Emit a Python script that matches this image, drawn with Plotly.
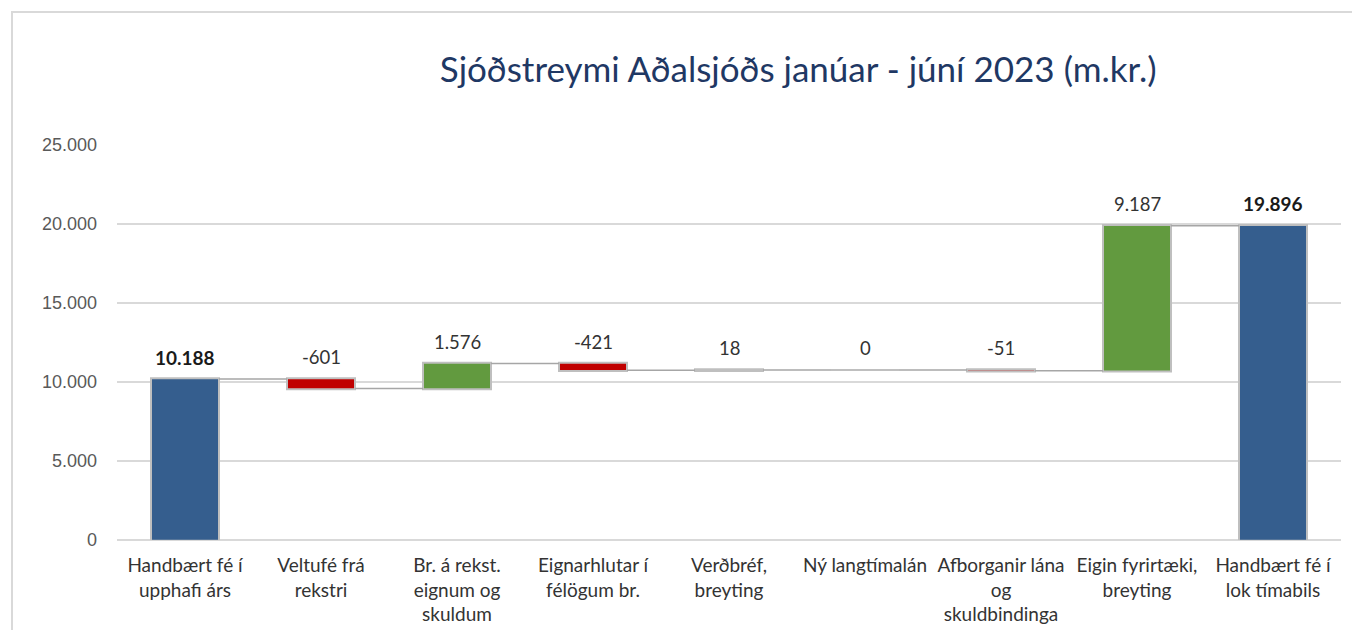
import plotly.graph_objects as go

categories = [
    "Handbært fé í<br>upphafi árs",
    "Veltufé frá<br>rekstri",
    "Br. á rekst.<br>eignum og<br>skuldum",
    "Eignarhlutar í<br>félögum br.",
    "Verðbréf,<br>breyting",
    "Ný langtímalán",
    "Afborganir lána<br>og<br>skuldbindinga",
    "Eigin fyrirtæki,<br>breyting",
    "Handbært fé í<br>lok tímabils",
]
values = [10188, -601, 1576, -421, 18, 0, -51, 9187, 19896]
measures = ["absolute", "relative", "relative", "relative", "relative",
            "relative", "relative", "relative", "total"]
title_text = "Sjóðstreymi Aðalsjóðs janúar - júní 2023 (m.kr.)"
y_ticks = [0, 5000, 10000, 15000, 20000, 25000]

BLUE = "#355E8E"
GREEN = "#629A3F"
RED = "#C00000"
EDGE = "#BFBFBF"
CAT_FONT = "Lato"
BAR_W = 0.5

def fmt(v):
    return f"{v:,}".replace(",", ".")

fig = go.Figure()
fig.add_trace(go.Waterfall(
    x=list(range(len(categories))),
    y=values,
    measure=measures,
    width=BAR_W,
    increasing=dict(marker=dict(color=GREEN, line=dict(color=EDGE, width=2))),
    decreasing=dict(marker=dict(color=RED, line=dict(color=EDGE, width=2))),
    totals=dict(marker=dict(color=BLUE, line=dict(color=EDGE, width=2))),
    connector=dict(mode="between", line=dict(color="#A6A6A6", width=1.5)),
    showlegend=False,
    hoverinfo="x+y",
))

# value labels above each bar (and outline for zero-height bars)
running = 0
for i, (v, m) in enumerate(zip(values, measures)):
    if m == "absolute":
        start, end = 0, v
        running = v
    elif m == "total":
        start, end = 0, running
    else:
        start, end = running, running + v
        running = end
    top = max(start, end)
    is_total = m != "relative"
    if m == "relative" and v == 0:
        fig.add_shape(type="line", xref="x", yref="y",
                      x0=i - BAR_W / 2, x1=i + BAR_W / 2, y0=running, y1=running,
                      line=dict(color=EDGE, width=2))
    fig.add_annotation(
        x=i, y=top, xref="x", yref="y",
        text=f"<b>{fmt(v)}</b>" if is_total else fmt(v),
        showarrow=False, yshift=22,
        font=dict(family=CAT_FONT, size=19 if is_total else 18.5,
                  color="#1a1a1a" if is_total else "#333333"),
    )

# outer frame
fig.add_shape(type="rect", xref="paper", yref="paper",
              x0=-0.0858, x1=1.2, y0=-0.5, y1=1.3367,
              line=dict(color="#D9D9D9", width=2), fillcolor="rgba(0,0,0,0)", layer="below")

fig.update_layout(
    width=1360, height=630,
    margin=dict(l=109, r=27, t=137, b=98),
    paper_bgcolor="white", plot_bgcolor="white",
    separators=",.",
    title=dict(text=title_text, x=0.581, xanchor="center", y=0.9015, yanchor="middle",
               font=dict(family=CAT_FONT, size=35, color="#1F3864")),
    xaxis=dict(
        tickmode="array", tickvals=list(range(len(categories))), ticktext=categories,
        range=[-0.5, len(categories) - 0.5],
        showgrid=False, zeroline=False, showline=False,
        tickfont=dict(family=CAT_FONT, size=19, color="#333333"),
        ticks="", ticklabelstandoff=12,
    ),
    yaxis=dict(
        range=[0, 25000], tickvals=y_ticks, tickformat=",d",
        showgrid=True, gridcolor="#D9D9D9", gridwidth=1.5,
        zeroline=True, zerolinecolor="#D9D9D9", zerolinewidth=1.5,
        showline=False, ticks="", ticklabelstandoff=19,
        tickfont=dict(family="Liberation Sans", size=18, color="#595959"),
    ),
)

fig.write_html("out.html")
